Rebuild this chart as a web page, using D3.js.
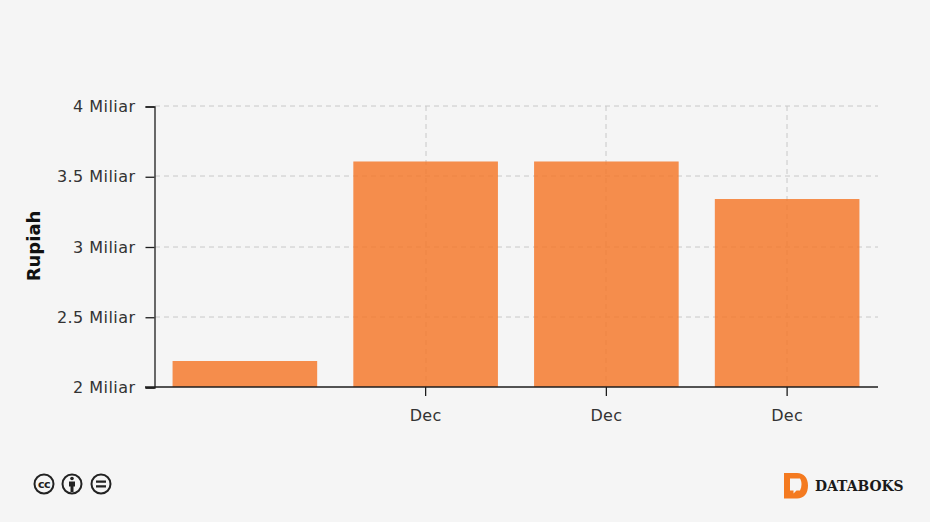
<!DOCTYPE html>
<html><head><meta charset="utf-8">
<script src="https://cdn.jsdelivr.net/npm/d3@7/dist/d3.min.js"></script>
<style>html,body{margin:0;padding:0;background:#f5f5f5}svg{display:block}text{font-family:"DejaVu Sans",sans-serif}</style>
</head><body><svg id="c" width="930" height="522"></svg>
<script>
const categories = ["a", "b", "c", "d"];
const tickLabels = ["", "Dec", "Dec", "Dec"];
const values = [2.185, 3.605, 3.605, 3.338];
const yTicks = [2, 2.5, 3, 3.5, 4];
const yTickLabels = ["2 Miliar", "2.5 Miliar", "3 Miliar", "3.5 Miliar", "4 Miliar"];
const yTitle = "Rupiah";

const svg = d3.select("#c");
const x = d3.scaleBand().domain(categories).range([154.5, 877.5]).paddingInner(0.2).paddingOuter(0.1);
const y = d3.scaleLinear().domain([2, 4]).range([387, 106]);
const dash = "5 4", grid = "#c8c8c8";

// grid
svg.append("g").selectAll("line").data(yTicks.slice(1)).join("line")
  .attr("x1", 155).attr("x2", 878)
  .attr("y1", d => Math.round(y(d))).attr("y2", d => Math.round(y(d)))
  .attr("stroke", grid).attr("stroke-dasharray", dash);
const labelled = categories.filter((c, i) => tickLabels[i]);
svg.append("g").selectAll("line").data(labelled).join("line")
  .attr("x1", d => Math.round(x(d) + x.bandwidth() / 2)).attr("x2", d => Math.round(x(d) + x.bandwidth() / 2))
  .attr("y1", 106).attr("y2", 387)
  .attr("stroke", grid).attr("stroke-dasharray", dash);

// bars
svg.append("g").selectAll("rect").data(values).join("rect")
  .attr("x", (d, i) => x(categories[i])).attr("width", x.bandwidth())
  .attr("y", d => y(d)).attr("height", d => y(2) - y(d))
  .attr("fill", "#f47a2e").attr("fill-opacity", .85);

// y axis
const yAxis = svg.append("g").attr("transform", "translate(154.5,0.5)")
  .call(d3.axisLeft(y).tickValues(yTicks).tickFormat((d, i) => yTickLabels[i]).tickSize(9).tickPadding(10));
yAxis.select(".domain").attr("stroke", "#1c1c1c").attr("stroke-width", 1.3);
yAxis.selectAll(".tick line").attr("stroke", "#1c1c1c").attr("stroke-width", 1.3);
yAxis.selectAll("text").attr("font-size", 16).attr("letter-spacing", 0.45).attr("fill", "#333").style("font-family", '"DejaVu Sans"');

// x axis
const xAxis = svg.append("g").attr("transform", "translate(0,387)")
  .call(d3.axisBottom(x).tickSize(9).tickPadding(14).tickFormat((d, i) => tickLabels[i]));
xAxis.select(".domain").attr("d", "M145,0H878").attr("stroke", "#1c1c1c").attr("stroke-width", 1.5);
xAxis.selectAll(".tick").filter((d, i) => !tickLabels[i]).select("line").remove();
xAxis.selectAll(".tick line").attr("stroke", "#1c1c1c").attr("stroke-width", 1.3);
xAxis.selectAll("text").attr("font-size", 16).attr("letter-spacing", 0.3).attr("fill", "#333").style("font-family", '"DejaVu Sans"');

svg.append("text").attr("transform", "translate(40,246) rotate(-90)").attr("text-anchor", "middle")
  .attr("font-size", 18).attr("font-weight", 700).attr("fill", "#111").text(yTitle);

// licence icons
const icons = svg.append("g").attr("fill", "none").attr("stroke", "#222");
[44, 72, 101].forEach(cx => icons.append("circle").attr("cx", cx).attr("cy", 484).attr("r", 9.5).attr("stroke-width", 2));
svg.append("text").attr("x", 44).attr("y", 488).attr("text-anchor", "middle").attr("font-size", 11).attr("font-weight", 700).attr("letter-spacing", -0.5).attr("fill", "#222").text("cc");
svg.append("circle").attr("cx", 72).attr("cy", 478.5).attr("r", 1.8).attr("fill", "#222");
svg.append("path").attr("d", "M69,481.5h6v5h-1.5v5.5h-3v-5.5h-1.5z").attr("fill", "#222");
svg.append("path").attr("d", "M96,480.5h10v2.2h-10zM96,485.3h10v2.2h-10z").attr("fill", "#222");

// logo
svg.append("path").attr("fill-rule", "evenodd").attr("fill", "#f47a20")
  .attr("d", "M784,473h13c7,0 11,5 11,12.5c0,8 -4,13 -11,13h-13zM790,478.5v12h3.5v3l3,-3h3.5c1,-2 1.5,-4 1.5,-6c0,-2.5 -.5,-4.5 -1.5,-6z");
svg.append("text").attr("x", 815).attr("y", 491).attr("font-size", 13.9).attr("font-weight", 700).attr("fill", "#1a1a1a")
  .style("font-family", '"DejaVu Serif"').text("DATABOKS");
</script></body></html>
